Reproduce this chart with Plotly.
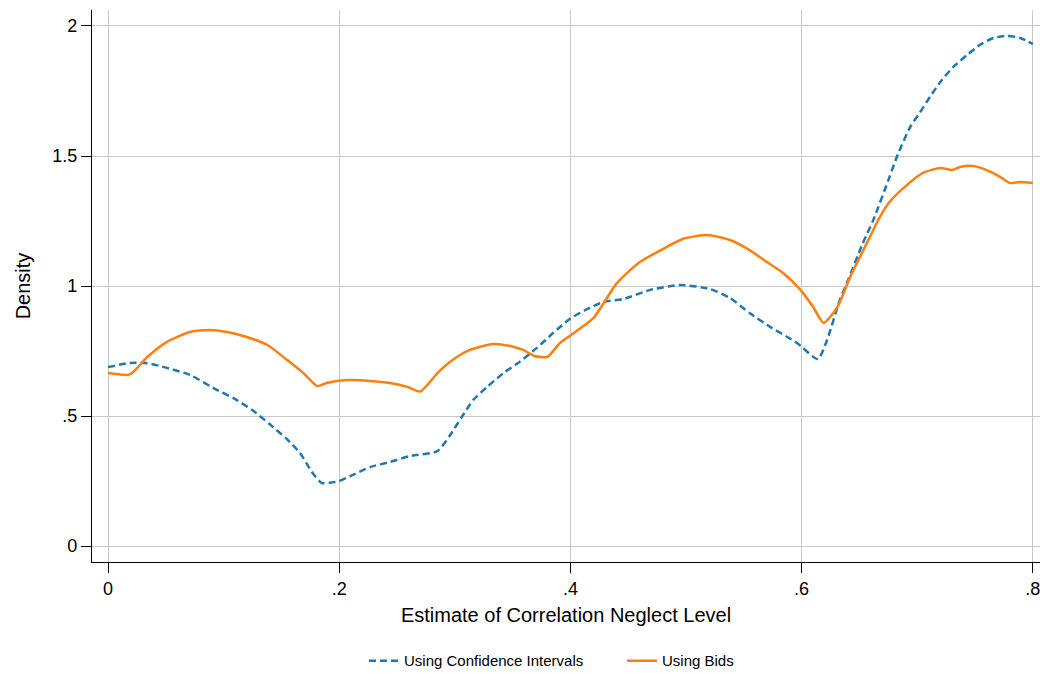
import plotly.graph_objects as go

# Kernel density estimates of the correlation neglect level
ci_x = [0, 0.019, 0.034, 0.051, 0.071, 0.091, 0.11, 0.125, 0.14, 0.155, 0.166, 0.177,
        0.185, 0.192, 0.2, 0.21, 0.227, 0.244, 0.261, 0.285, 0.296, 0.306, 0.316, 0.328,
        0.342, 0.356, 0.371, 0.385, 0.4, 0.414, 0.428, 0.446, 0.469, 0.495, 0.521, 0.538,
        0.555, 0.573, 0.596, 0.614, 0.622, 0.633, 0.639, 0.653, 0.662, 0.676, 0.683, 0.694,
        0.702, 0.711, 0.72, 0.731, 0.743, 0.754, 0.766, 0.778, 0.789, 0.8]
ci_y = [0.688, 0.704, 0.703, 0.685, 0.658, 0.608, 0.565, 0.522, 0.468, 0.41, 0.358, 0.281,
        0.242, 0.243, 0.25, 0.27, 0.304, 0.323, 0.346, 0.365, 0.427, 0.496, 0.562, 0.612,
        0.665, 0.708, 0.762, 0.819, 0.875, 0.91, 0.938, 0.95, 0.985, 1.004, 0.988, 0.954,
        0.896, 0.842, 0.781, 0.719, 0.792, 0.946, 1.01, 1.165, 1.254, 1.419, 1.504, 1.612,
        1.665, 1.727, 1.785, 1.842, 1.888, 1.927, 1.954, 1.962, 1.954, 1.931]

bid_x = [0, 0.019, 0.034, 0.051, 0.071, 0.088, 0.103, 0.12, 0.138, 0.155, 0.169, 0.181,
         0.189, 0.207, 0.227, 0.244, 0.259, 0.27, 0.285, 0.298, 0.313, 0.333, 0.348, 0.359,
         0.369, 0.38, 0.391, 0.4, 0.42, 0.44, 0.46, 0.48, 0.497, 0.518, 0.538, 0.555, 0.57,
         0.584, 0.599, 0.61, 0.619, 0.631, 0.642, 0.659, 0.667, 0.676, 0.691, 0.705, 0.72,
         0.73, 0.737, 0.748, 0.76, 0.772, 0.78, 0.789, 0.8]
bid_y = [0.665, 0.66, 0.727, 0.785, 0.823, 0.831, 0.823, 0.804, 0.773, 0.715, 0.665, 0.615,
         0.627, 0.638, 0.635, 0.627, 0.612, 0.594, 0.665, 0.715, 0.754, 0.777, 0.769, 0.754,
         0.731, 0.727, 0.781, 0.81, 0.877, 1.01, 1.092, 1.142, 1.181, 1.196, 1.177, 1.138,
         1.092, 1.05, 0.985, 0.919, 0.858, 0.919, 1.035, 1.188, 1.26, 1.323, 1.388, 1.435,
         1.454, 1.446, 1.458, 1.462, 1.446, 1.419, 1.396, 1.4, 1.396]

x_ticks = [0, 0.2, 0.4, 0.6, 0.8]
x_tick_text = ["0", ".2", ".4", ".6", ".8"]
y_ticks = [0, 0.5, 1, 1.5, 2]
y_tick_text = ["0", ".5", "1", "1.5", "2"]

FONT = "Liberation Sans, Arial, sans-serif"

fig = go.Figure()
fig.add_trace(go.Scatter(
    x=ci_x, y=ci_y, mode="lines", name="Using Confidence Intervals",
    line=dict(color="#1f77b4", width=2.5, dash="7px,4px", shape="spline", smoothing=0.6),
))
fig.add_trace(go.Scatter(
    x=bid_x, y=bid_y, mode="lines", name="Using Bids",
    line=dict(color="#ff7f0e", width=2.5, shape="spline", smoothing=0.6),
))

axis_common = dict(
    showgrid=True, gridcolor="#c8c8c8", gridwidth=1,
    showline=True, linecolor="black", linewidth=1.3,
    ticks="outside", ticklen=10, tickwidth=1.3, tickcolor="black",
    zeroline=False, tickfont=dict(family=FONT, size=18, color="black"),
    ticklabeloverflow="allow",
)

fig.update_layout(
    width=1040, height=673,
    margin=dict(l=92, r=0, t=10, b=111, autoexpand=False),
    paper_bgcolor="white", plot_bgcolor="white",
    font=dict(family=FONT, color="black"),
    xaxis=dict(
        range=[-0.01384, 0.8062], tickvals=x_ticks, ticktext=x_tick_text,
        title=dict(text="Estimate of Correlation Neglect Level",
                   font=dict(family=FONT, size=20, color="black"), standoff=10),
        automargin=False, **axis_common,
    ),
    yaxis=dict(
        range=[-0.0615, 2.0615], tickvals=y_ticks, ticktext=y_tick_text,
        title=dict(text="Density", font=dict(family=FONT, size=20, color="black"), standoff=16),
        automargin=False, **axis_common,
    ),
    legend=dict(
        orientation="h", x=0.35, xanchor="left", xref="container",
        y=0.018, yanchor="middle", yref="container",
        font=dict(family=FONT, size=15, color="black"),
        itemwidth=30, entrywidth=213, entrywidthmode="pixels", tracegroupgap=0,
    ),
    showlegend=True,
)

fig.write_html("out.html")
